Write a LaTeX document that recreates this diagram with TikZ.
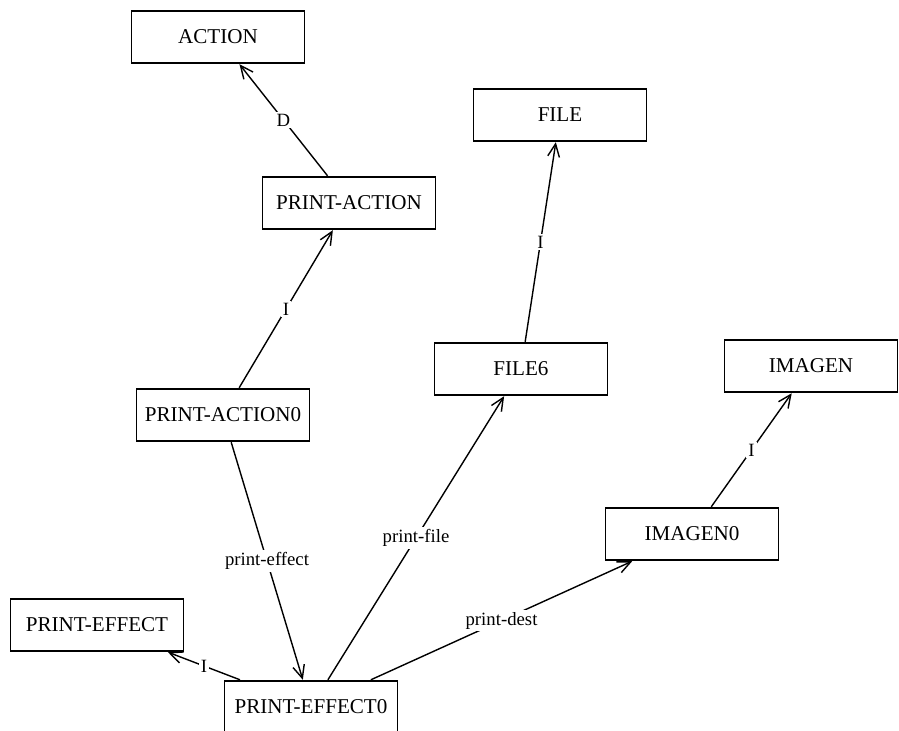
\documentclass[tikz,border=0pt]{standalone}
\usepackage{fontspec}
\setmainfont{Liberation Serif}
\usetikzlibrary{arrows.meta}

\tikzset{
  frame/.style={draw,line width=1.5pt,minimum width=5.19cm,minimum height=1.58cm,inner sep=0pt,font=\fontsize{18}{21}\selectfont},
  link/.style={line width=1.2pt,-{Straight Barb[length=11pt,width=10pt,line width=1.2pt]}},
  tag/.style={fill=white,inner sep=2pt,font=\fontsize{16}{19}\selectfont}
}

\begin{document}
\begin{tikzpicture}[x=0.03cm,y=-0.03cm]
  \useasboundingbox (0,0) rectangle (899,731);
  \clip (0,0) rectangle (899,731);
  % concepts
  \node[frame] (action) at (218,37) {ACTION};
  \node[frame] (printaction) at (349,203) {PRINT-ACTION};
  \node[frame] (printaction0) at (223,415) {PRINT-ACTION0};
  \node[frame] (file) at (560,115) {FILE};
  \node[frame] (file6) at (521,369) {FILE6};
  \node[frame] (imagen) at (811,366) {IMAGEN};
  \node[frame] (imagen0) at (692,534) {IMAGEN0};
  \node[frame] (printeffect) at (97,625) {PRINT-EFFECT};
  \node[frame] (printeffect0) at (311,707) {PRINT-EFFECT0};
  % relations
  \draw[link] (printaction) -- node[tag] {D} (action);
  \draw[link] (printaction0) -- node[tag] {I} (printaction);
  \draw[link] (file6) -- node[tag] {I} (file);
  \draw[link] (imagen0) -- node[tag] {I} (imagen);
  \draw[link] (printeffect0) -- node[tag] {I} (printeffect);
  \draw[link] (printaction0) -- node[tag] {print-effect} (printeffect0);
  \draw[link] (printeffect0) -- node[tag] {print-file} (file6);
  \draw[link] (printeffect0) -- node[tag] {print-dest} (imagen0);
\end{tikzpicture}
\end{document}
